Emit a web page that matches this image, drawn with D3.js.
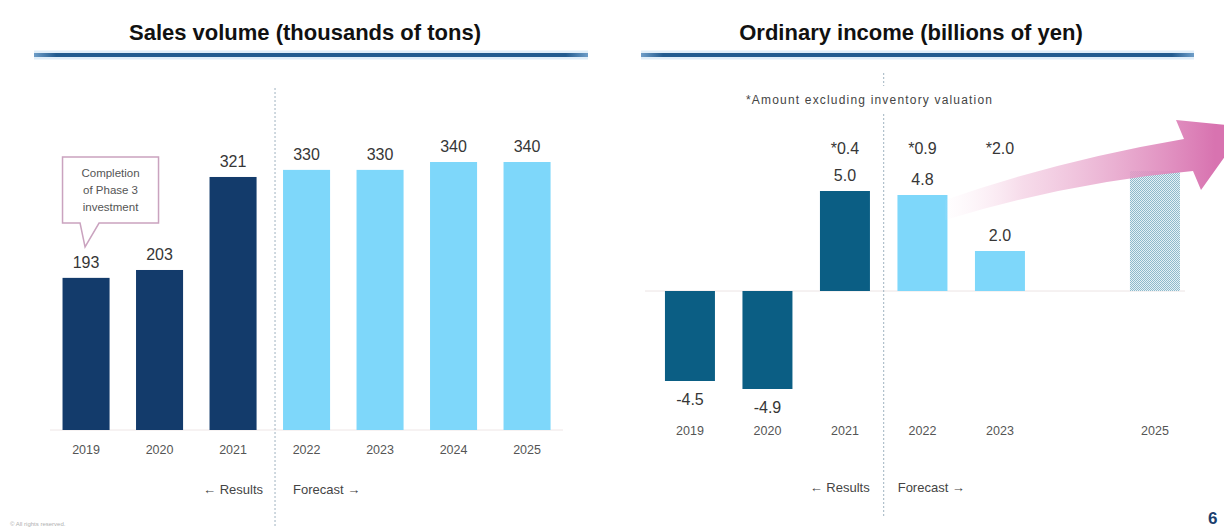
<!DOCTYPE html>
<html>
<head>
<meta charset="utf-8">
<script src="https://cdn.jsdelivr.net/npm/d3@7"></script>
<style>
  html, body { margin: 0; padding: 0; background: #fff; }
  svg { display: block; font-family: "Liberation Sans", Arial, sans-serif; }
</style>
</head>
<body>
<svg id="chart" width="1224" height="528"></svg>
<script>
// Sales volume (thousands of tons)
const salesYears = ["2019", "2020", "2021", "2022", "2023", "2024", "2025"];
const salesValues = [193, 203, 321, 330, 330, 340, 340];
const salesIsResult = [true, true, true, false, false, false, false];

// Ordinary income (billions of yen); 2024 has no bar, 2025 is a target placeholder
const incomeYears = ["2019", "2020", "2021", "2022", "2023", "2024", "2025"];
const incomeValues = [-4.5, -4.9, 5.0, 4.8, 2.0, null, 6.0];
const incomeKind = ["result", "result", "result", "forecast", "forecast", "none", "target"];
// Amounts excluding inventory valuation
const incomeExInventory = [null, null, 0.4, 0.9, 2.0, null, null];

const svg = d3.select("#chart");
const defs = svg.append("defs");

const COL_NAVY = "#133b6b";
const COL_TEAL = "#0b5e84";
const COL_LIGHT = "#7ed7fa";
const COL_TEXT = "#363636";
const COL_AXIS = "#555";
const fmt1 = v => v.toFixed(1);

// ---- shared definitions ----
const hatch = defs.append("pattern").attr("id", "dots")
  .attr("width", 2).attr("height", 2).attr("patternUnits", "userSpaceOnUse");
hatch.append("rect").attr("width", 2).attr("height", 2).attr("fill", "#e4f1f6");
hatch.append("rect").attr("width", 1).attr("height", 1).attr("fill", "#8fbacb");
hatch.append("rect").attr("x", 1).attr("y", 1).attr("width", 1).attr("height", 1).attr("fill", "#8fbacb");

const arrowGrad = defs.append("linearGradient").attr("id", "arrowGrad")
  .attr("gradientUnits", "userSpaceOnUse")
  .attr("x1", 940).attr("y1", 0).attr("x2", 1215).attr("y2", 0);
arrowGrad.append("stop").attr("offset", "0%").attr("stop-color", "#fbe9f2").attr("stop-opacity", 0);
arrowGrad.append("stop").attr("offset", "30%").attr("stop-color", "#f3cce1").attr("stop-opacity", 0.7);
arrowGrad.append("stop").attr("offset", "100%").attr("stop-color", "#d873b0").attr("stop-opacity", 1);

function panelTitle(id, text, cx, x0, x1) {
  const g = defs.append("linearGradient").attr("id", id)
    .attr("gradientUnits", "userSpaceOnUse")
    .attr("x1", x0).attr("y1", 0).attr("x2", x1).attr("y2", 0);
  g.append("stop").attr("offset", "0%").attr("stop-color", "#6f9ec8");
  g.append("stop").attr("offset", "4%").attr("stop-color", "#235c90");
  g.append("stop").attr("offset", "96%").attr("stop-color", "#235c90");
  g.append("stop").attr("offset", "100%").attr("stop-color", "#6f9ec8");

  svg.append("text").attr("x", cx).attr("y", 40)
    .attr("text-anchor", "middle").attr("font-size", 22).attr("font-weight", "bold")
    .attr("fill", "#111").text(text);
  svg.append("line").attr("x1", x0).attr("x2", x1).attr("y1", 55).attr("y2", 55)
    .attr("stroke", "#d8eaf7").attr("stroke-width", 9).attr("stroke-opacity", 0.8);
  svg.append("line").attr("x1", x0).attr("x2", x1).attr("y1", 55).attr("y2", 55)
    .attr("stroke", `url(#${id})`).attr("stroke-width", 4);
}

function divider(x, segments) {
  segments.forEach(([a, b]) => {
    svg.append("line").attr("x1", x).attr("x2", x).attr("y1", a).attr("y2", b)
      .attr("stroke", "#9fb3c0").attr("stroke-width", 1).attr("stroke-dasharray", "2,2");
  });
}

// ================= Sales volume =================
panelTitle("ruleSales", "Sales volume (thousands of tons)", 305, 34, 588);

const xS = d3.scaleBand().domain(salesYears).range([49.3, 563.8])
  .paddingInner(0.36).paddingOuter(0.18);
const yS = d3.scaleLinear().domain([0, 340]).range([430, 162]);

svg.append("line").attr("x1", 50).attr("x2", 563).attr("y1", yS(0)).attr("y2", yS(0))
  .attr("stroke", "#eee6e6").attr("stroke-width", 1);

const gS = svg.append("g");
gS.selectAll("rect").data(salesYears).join("rect")
  .attr("x", d => xS(d)).attr("width", xS.bandwidth())
  .attr("y", (d, i) => yS(salesValues[i]))
  .attr("height", (d, i) => yS(0) - yS(salesValues[i]))
  .attr("fill", (d, i) => salesIsResult[i] ? COL_NAVY : COL_LIGHT);

gS.selectAll("text.val").data(salesYears).join("text").attr("class", "val")
  .attr("x", d => xS(d) + xS.bandwidth() / 2)
  .attr("y", (d, i) => yS(salesValues[i]) - 10)
  .attr("text-anchor", "middle").attr("font-size", 16).attr("fill", COL_TEXT)
  .text((d, i) => salesValues[i]);

const axS = svg.append("g").attr("transform", `translate(0,${yS(0)})`)
  .call(d3.axisBottom(xS).tickSize(0).tickPadding(15));
axS.select(".domain").remove();
axS.selectAll("text").attr("font-size", 12.5).attr("fill", COL_AXIS)
  .attr("font-family", "Liberation Sans, Arial, sans-serif");

divider(xS("2022") - 8, [[88, 528]]);

svg.append("text").attr("x", xS("2022") - 20).attr("y", 494).attr("text-anchor", "end")
  .attr("font-size", 13).attr("fill", "#444").text("\u2190 Results");
svg.append("text").attr("x", xS("2022") + 10).attr("y", 494)
  .attr("font-size", 13).attr("fill", "#444").text("Forecast \u2192");

// callout for 2019
{
  const bx = xS("2019"), cx = bx + xS.bandwidth() / 2;
  const top = 157, bot = 223, left = bx, right = bx + 96;
  const tipY = yS(salesValues[0]) - 31;
  const path = `M${left},${top} H${right} V${bot} H${cx + 13} L${cx - 1},${tipY} L${cx - 6},${bot} H${left} Z`;
  svg.append("path").attr("d", path).attr("fill", "#fff")
    .attr("stroke", "#caa3bf").attr("stroke-width", 1.5);
  const lines = ["Completion", "of Phase 3", "investment"];
  svg.append("g").selectAll("text").data(lines).join("text")
    .attr("x", (left + right) / 2).attr("y", (d, i) => 177 + i * 17)
    .attr("text-anchor", "middle").attr("font-size", 11.5).attr("fill", "#555")
    .text(d => d);
}

// ================= Ordinary income =================
panelTitle("ruleIncome", "Ordinary income (billions of yen)", 911, 641, 1194);

const xI = d3.scaleBand().domain(incomeYears).range([651.2, 1193.7])
  .paddingInner(0.355).paddingOuter(0.1775);
const yI = d3.scaleLinear().domain([0, 5]).range([291, 191]);

svg.append("line").attr("x1", 645).attr("x2", 1185).attr("y1", yI(0)).attr("y2", yI(0))
  .attr("stroke", "#ece4e4").attr("stroke-width", 1);

const incomeIdx = incomeYears.map((d, i) => i).filter(i => incomeValues[i] !== null);
const fillFor = k => k === "result" ? COL_TEAL : k === "forecast" ? COL_LIGHT : "url(#dots)";

svg.append("g").selectAll("rect").data(incomeIdx).join("rect")
  .attr("x", i => xI(incomeYears[i])).attr("width", xI.bandwidth())
  .attr("y", i => yI(Math.max(0, incomeValues[i])))
  .attr("height", i => Math.abs(yI(incomeValues[i]) - yI(0)))
  .attr("fill", i => fillFor(incomeKind[i]));

// value labels (target bar is unlabelled)
const labelled = incomeIdx.filter(i => incomeKind[i] !== "target");
svg.append("g").selectAll("text").data(labelled).join("text")
  .attr("x", i => xI(incomeYears[i]) + xI.bandwidth() / 2)
  .attr("y", i => incomeValues[i] >= 0 ? yI(incomeValues[i]) - 10 : yI(incomeValues[i]) + 24)
  .attr("text-anchor", "middle").attr("font-size", 16).attr("fill", COL_TEXT)
  .text(i => fmt1(incomeValues[i]));

const exIdx = incomeYears.map((d, i) => i).filter(i => incomeExInventory[i] !== null);
svg.append("g").selectAll("text").data(exIdx).join("text")
  .attr("x", i => xI(incomeYears[i]) + xI.bandwidth() / 2)
  .attr("y", 154)
  .attr("text-anchor", "middle").attr("font-size", 16).attr("fill", COL_TEXT)
  .text(i => "*" + fmt1(incomeExInventory[i]));

svg.append("text").attr("x", 746).attr("y", 104)
  .attr("font-size", 12).attr("fill", "#444")
  .attr("textLength", 246).attr("lengthAdjust", "spacing")
  .text("*Amount excluding inventory valuation");

const axI = svg.append("g").attr("transform", "translate(0,411)")
  .call(d3.axisBottom(xI).tickSize(0).tickPadding(15)
    .tickValues(incomeYears.filter((d, i) => incomeValues[i] !== null)));
axI.select(".domain").remove();
axI.selectAll("text").attr("font-size", 12.5).attr("fill", COL_AXIS)
  .attr("font-family", "Liberation Sans, Arial, sans-serif");

const divI = (xI("2021") + xI.bandwidth() + xI("2022")) / 2;
divider(divI, [[73, 86], [114, 517]]);

svg.append("text").attr("x", divI - 14).attr("y", 492).attr("text-anchor", "end")
  .attr("font-size", 13).attr("fill", "#444").text("\u2190 Results");
svg.append("text").attr("x", divI + 14).attr("y", 492)
  .attr("font-size", 13).attr("fill", "#444").text("Forecast \u2192");

// upward trend arrow toward the 2025 target
svg.append("path")
  .attr("d", "M945,200 Q1060,160 1184,139 L1176,120 L1246,127 L1201,190 L1193,171 Q1070,182 945,220 Z")
  .attr("fill", "url(#arrowGrad)");

// page number and footer
svg.append("text").attr("x", 1208).attr("y", 524).attr("font-size", 17)
  .attr("font-weight", "bold").attr("fill", "#1b3f6e").text("6");
svg.append("text").attr("x", 10).attr("y", 526).attr("font-size", 6)
  .attr("fill", "#b0b0b0").text("\u00a9 All rights reserved.");
</script>
</body>
</html>
